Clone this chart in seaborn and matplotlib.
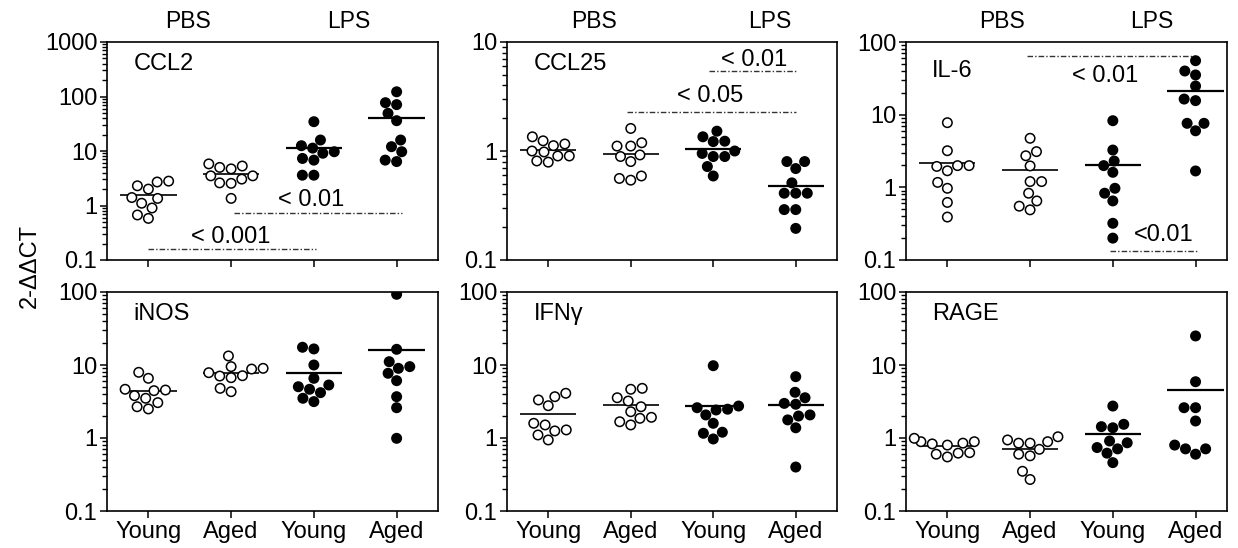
import numpy as np
import pandas as pd
import matplotlib
matplotlib.use("Agg")
import matplotlib.pyplot as plt
import matplotlib.ticker as mticker
import matplotlib.transforms as mtrans
import seaborn as sns

# groups on the x axis
groups = ["Young PBS", "Aged PBS", "Young LPS", "Aged LPS"]
treatments = ["PBS", "PBS", "LPS", "LPS"]
age_labels = ["Young", "Aged", "Young", "Aged"]
genes = ["CCL2", "CCL25", "IL-6", "iNOS", "IFNγ", "RAGE"]

# values (2^-ddCT)
ccl2_young_pbs = [2.7, 2.0, 2.3, 2.8, 1.35, 1.1, 1.4, 0.9, 0.58, 0.67]
ccl2_aged_pbs = [5.3, 4.7, 5.0, 5.8, 3.5, 3.5, 2.6, 2.55, 3.05, 1.35]
ccl2_young_lps = [34.5, 15.9, 12.5, 11.3, 9.7, 9.1, 7.3, 6.8, 3.6, 3.6]
ccl2_aged_lps = [122, 77, 71, 49, 36, 15.9, 12.0, 9.7, 6.4, 6.8]

ccl25_young_pbs = [1.35, 1.16, 1.12, 1.24, 1.0, 0.98, 0.9, 0.9, 0.79, 0.81]
ccl25_aged_pbs = [1.61, 1.19, 1.11, 1.11, 0.89, 0.80, 0.92, 0.59, 0.54, 0.56]
ccl25_young_lps = [1.35, 1.22, 1.23, 1.52, 1.0, 0.89, 0.89, 0.95, 0.72, 0.59]
ccl25_aged_lps = [0.80, 0.69, 0.80, 0.51, 0.41, 0.41, 0.41, 0.29, 0.29, 0.195]

il6_young_pbs = [7.76, 3.19, 1.99, 1.94, 1.99, 1.69, 1.17, 0.97, 0.62, 0.39]
il6_aged_pbs = [4.73, 3.10, 2.72, 1.97, 1.2, 1.2, 0.83, 0.65, 0.49, 0.55]
il6_young_lps = [8.26, 3.26, 1.99, 2.3, 1.61, 0.97, 0.83, 0.65, 0.32, 0.2]
il6_aged_lps = [55.3, 39.9, 35.2, 24.8, 15.6, 16.4, 7.6, 7.6, 6.0, 1.68]

inos_young_pbs = [6.57, 7.94, 4.54, 4.45, 4.65, 3.8, 3.5, 3.05, 2.5, 2.68]
inos_aged_pbs = [13.3, 9.0, 8.8, 9.5, 7.85, 7.06, 6.7, 7.13, 4.31, 4.79]
inos_young_lps = [17.5, 16.6, 10.0, 6.57, 5.32, 5.04, 4.18, 4.65, 3.15, 3.5]
inos_aged_lps = [93, 16.4, 11.1, 9.0, 9.5, 7.7, 6.1, 3.68, 2.6, 0.99]

ifng_young_pbs = [3.68, 2.77, 3.32, 4.10, 1.25, 1.59, 1.51, 1.29, 0.94, 1.10]
ifng_aged_pbs = [4.79, 4.65, 3.56, 3.21, 2.68, 2.29, 1.86, 1.92, 1.51, 1.67]
ifng_young_lps = [9.78, 2.6, 2.42, 2.48, 2.74, 2.07, 1.59, 1.2, 1.16, 0.97]
ifng_aged_lps = [6.92, 3.56, 4.23, 2.9, 2.98, 2.07, 1.77, 2.0, 1.38, 0.40]

rage_young_pbs = [0.85, 0.89, 0.80, 0.89, 0.99, 0.83, 0.62, 0.55, 0.63, 0.60]
rage_aged_pbs = [0.94, 0.85, 0.85, 0.89, 1.04, 0.70, 0.60, 0.57, 0.35, 0.27]
rage_young_lps = [2.74, 1.54, 1.38, 1.43, 0.91, 0.74, 0.71, 0.86, 0.62, 0.46]
rage_aged_lps = [25, 5.9, 2.6, 2.6, 1.71, 0.71, 0.60, 0.71, 0.80]

panel_data = [
    [ccl2_young_pbs, ccl2_aged_pbs, ccl2_young_lps, ccl2_aged_lps],
    [ccl25_young_pbs, ccl25_aged_pbs, ccl25_young_lps, ccl25_aged_lps],
    [il6_young_pbs, il6_aged_pbs, il6_young_lps, il6_aged_lps],
    [inos_young_pbs, inos_aged_pbs, inos_young_lps, inos_aged_lps],
    [ifng_young_pbs, ifng_aged_pbs, ifng_young_lps, ifng_aged_lps],
    [rage_young_pbs, rage_aged_pbs, rage_young_lps, rage_aged_lps],
]
y_upper = [1000, 10, 100, 100, 100, 100]

# p-value brackets: panel, x0, x1, y, label, text x, text y
brackets = [
    (0, 0.0, 2.02, 0.157, "< 0.001", 1.0, 0.264),
    (0, 1.04, 3.06, 0.72, "< 0.01", 1.97, 1.26),
    (1, 1.95, 3.0, 5.46, "< 0.01", 2.5, 6.84),
    (1, 0.96, 3.0, 2.26, "< 0.05", 1.96, 3.2),
    (2, 0.96, 2.98, 64.7, "< 0.01", 1.91, 34.0),
    (2, 1.97, 3.03, 0.134, "<0.01", 2.61, 0.22),
]
# PBS / LPS header positions per column (x in category units)
header_pos = [(0.48, 2.42), (0.55, 2.68), (0.66, 2.47)]

sns.set_style("ticks")
plt.rcParams["font.family"] = ["Liberation Sans", "DejaVu Sans"]
plt.rcParams["axes.linewidth"] = 1.2
plt.rcParams["ytick.minor.size"] = 3.5
plt.rcParams["ytick.minor.width"] = 1.0
for key in ["text.color", "axes.labelcolor", "xtick.color", "ytick.color", "axes.edgecolor"]:
    plt.rcParams[key] = "black"

W, H = 1238, 548
fig = plt.figure(figsize=(W / 100, H / 100), dpi=100)

col_px = [(107, 438), (507, 837), (906, 1227)]
row_px = [(42, 260), (292, 511)]

axes = []
for i in range(6):
    r, c = divmod(i, 3)
    x0, x1 = col_px[c]
    y0, y1 = row_px[r]
    ax = fig.add_axes([x0 / W, 1 - y1 / H, (x1 - x0) / W, (y1 - y0) / H])
    axes.append(ax)

    right = 3.38 if c == 2 else 3.5
    ax.set_yscale("log")
    ax.set_ylim(0.1, y_upper[i])
    ax.set_xlim(-0.5, right)

    rows = []
    for g, t, vals in zip(groups, treatments, panel_data[i]):
        for v in vals:
            rows.append({"group": g, "treat": t, "value": v})
    df = pd.DataFrame(rows)

    sns.swarmplot(data=df, x="group", y="value", hue="treat", order=groups,
                  hue_order=["PBS", "LPS"], palette={"PBS": "white", "LPS": "black"},
                  edgecolor="black", linewidth=1.1, size=6.8, legend=False, ax=ax)
    ax.set_xlim(-0.5, right)
    ax.set_ylim(0.1, y_upper[i])

    means = df.groupby("group")["value"].mean().reindex(groups)
    for k, m in enumerate(means):
        lw = 1.6 if treatments[k] == "LPS" else 1.2
        ax.hlines(m, k - 0.34, k + 0.34, color="black", lw=lw, zorder=1)

    ax.set_xlabel("")
    ax.set_ylabel("")
    ax.set_xticks(range(4))
    if r == 1:
        ax.set_xticklabels(age_labels)
    else:
        ax.set_xticklabels([])
    for s in ax.spines.values():
        s.set_color("black")
        s.set_linewidth(1.2)

    gy = 0.865 if genes[i] == "IL-6" else 0.9
    ax.text(0.08, gy, genes[i], transform=ax.transAxes, fontsize=17,
            ha="left", va="center")

    if r == 0:
        trans = mtrans.blended_transform_factory(ax.transData, ax.transAxes)
        px, lx = header_pos[c]
        ax.text(px, 1.092, "PBS", transform=trans, fontsize=16.5,
                ha="center", va="center", clip_on=False)
        ax.text(lx, 1.092, "LPS", transform=trans, fontsize=16.5,
                ha="center", va="center", clip_on=False)

for p, x0, x1, y, lab, tx, ty in brackets:
    ax = axes[p]
    ax.plot([x0, x1], [y, y], color="#333333", lw=1.0,
            linestyle=(0, (4, 1.5, 1, 1.5)), zorder=1)
    ax.text(tx, ty, lab, fontsize=17, ha="center", va="center")

# tick styling last so nothing resets it
for i, ax in enumerate(axes):
    ax.set_ylim(0.1, y_upper[i])
    decades = np.arange(-1, int(round(np.log10(y_upper[i]))))
    major_locs = [10.0 ** d for d in range(-1, int(round(np.log10(y_upper[i]))) + 1)]
    minor_locs = [s * 10.0 ** d for d in decades for s in range(2, 10)]
    ax.yaxis.set_major_locator(mticker.FixedLocator(major_locs))
    ax.yaxis.set_minor_locator(mticker.FixedLocator(minor_locs))
    ax.yaxis.set_major_formatter(mticker.FuncFormatter(lambda v, p: f"{v:g}"))
    ax.yaxis.set_minor_formatter(mticker.NullFormatter())
    ax.tick_params(axis="both", which="major", direction="out", length=5,
                   width=1.1, labelsize=17, color="black", pad=2)
    ax.tick_params(axis="y", which="minor", direction="out", length=3.5,
                   width=1.0, color="black", left=True, labelleft=False)

fig.text(30 / W, 1 - 266 / H, "2-ΔΔCT", rotation=90, fontsize=17,
         ha="center", va="center")

fig.savefig("out.png", dpi=100)
